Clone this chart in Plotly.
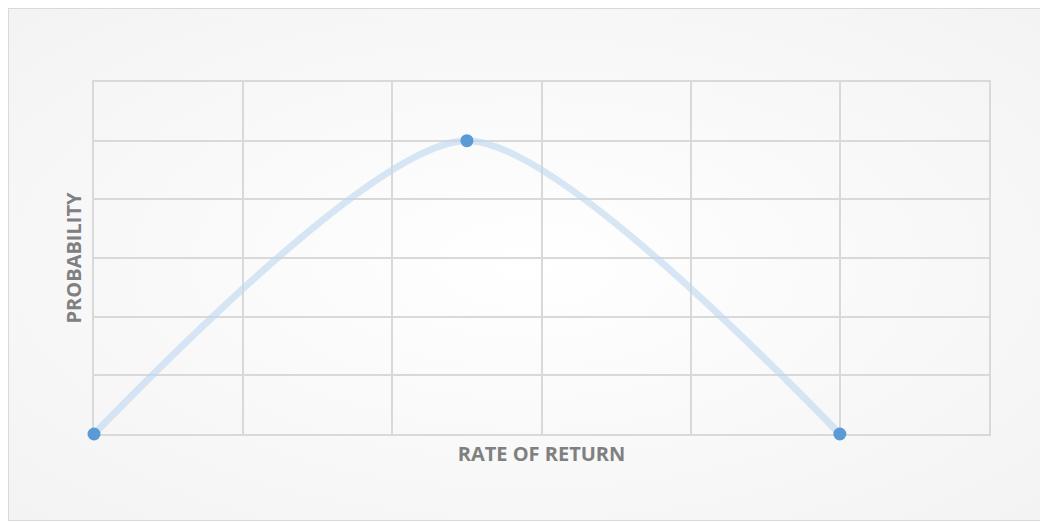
import plotly.graph_objects as go

rate_of_return = [0, 2.5, 5]
probability = [0, 5, 0]
x_range = [0, 6]
y_range = [0, 6]

W, H = 1036, 513
ML, MR, MT, MB = 86, 55, 74, 87
PW, PH = W - ML - MR, H - MT - MB

bg_svg = (
    "data:image/svg+xml;utf8,"
    "<svg xmlns='http://www.w3.org/2000/svg' width='1036' height='513' preserveAspectRatio='none'>"
    "<defs><radialGradient id='g' cx='50%' cy='50%' r='70%'>"
    "<stop offset='0%' stop-color='%23FFFFFF'/>"
    "<stop offset='100%' stop-color='%23F3F3F3'/>"
    "</radialGradient></defs>"
    "<rect width='1036' height='513' fill='url(%23g)'/></svg>"
)

fig = go.Figure()
fig.add_trace(go.Scatter(
    x=rate_of_return, y=probability,
    mode="lines",
    line=dict(shape="spline", smoothing=0.7, color="rgba(189,215,238,0.6)", width=7),
    hoverinfo="skip", showlegend=False, cliponaxis=False,
))
fig.add_trace(go.Scatter(
    x=rate_of_return, y=probability,
    mode="markers",
    marker=dict(size=13, color="#5B9BD5"),
    showlegend=False, cliponaxis=False,
))

axis_common = dict(
    dtick=1, showticklabels=False, ticks="",
    showgrid=True, gridcolor="#D9D9D9", gridwidth=1.5,
    zeroline=False, showline=True, linecolor="#D9D9D9", linewidth=1.5, mirror=True,
    fixedrange=True, layer="below traces",
)

fig.update_layout(
    width=W, height=H,
    margin=dict(l=ML, r=MR, t=MT, b=MB),
    paper_bgcolor="#F6F6F6",
    plot_bgcolor="rgba(0,0,0,0)",
    font=dict(family="Open Sans", color="#808080"),
    xaxis=dict(range=x_range, **axis_common,
               title=dict(text="<b>RATE OF RETURN</b>", font=dict(size=20, color="#808080"), standoff=12)),
    yaxis=dict(range=y_range, **axis_common,
               title=dict(text="<b>PROBABILITY</b>", font=dict(size=20, color="#808080"), standoff=5)),
    images=[dict(source=bg_svg, xref="paper", yref="paper",
                 x=-ML / PW, y=1 + MT / PH, sizex=W / PW, sizey=H / PH,
                 xanchor="left", yanchor="top", sizing="stretch", layer="below")],
    shapes=[dict(type="rect", xref="paper", yref="paper",
                 x0=-ML / PW, x1=1 + MR / PW, y0=-MB / PH, y1=1 + MT / PH,
                 line=dict(color="#D9D9D9", width=2), layer="below")],
)
fig.write_html("out.html")
